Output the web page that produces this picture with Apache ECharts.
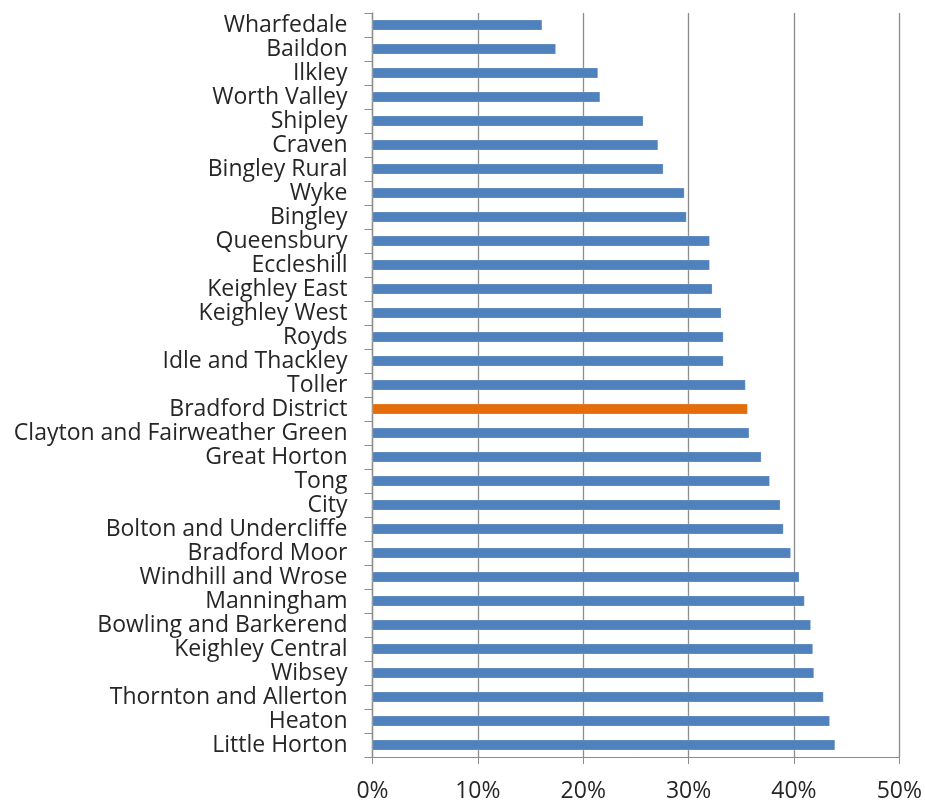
<!DOCTYPE html>
<html><head><meta charset="utf-8">
<script src="https://cdn.jsdelivr.net/npm/echarts@6/dist/echarts.min.js"></script>
<style>html,body{margin:0;padding:0;background:#fff}#c{width:925px;height:803px}</style>
</head><body><div id="c"></div>
<script>
const categories = ["Wharfedale","Baildon","Ilkley","Worth Valley","Shipley","Craven","Bingley Rural","Wyke","Bingley","Queensbury","Eccleshill","Keighley East","Keighley West","Royds","Idle and Thackley","Toller","Bradford District","Clayton and Fairweather Green","Great Horton","Tong","City","Bolton and Undercliffe","Bradford Moor","Windhill and Wrose","Manningham","Bowling and Barkerend","Keighley Central","Wibsey","Thornton and Allerton","Heaton","Little Horton"];
const values = [16.1,17.4,21.4,21.6,25.7,27.1,27.6,29.6,29.8,32.0,32.0,32.25,33.1,33.3,33.3,35.4,35.6,35.75,36.9,37.7,38.7,39.0,39.7,40.5,41.0,41.6,41.8,41.9,42.8,43.4,43.9];
const highlight = "Bradford District";
const xTicks = [0,10,20,30,40,50];

const chart = echarts.init(document.getElementById('c'), null, {renderer:'canvas'});
const font = "Open Sans";
chart.setOption({
  animation:false,
  grid:{left:372.5,right:24.5,top:13,bottom:43.5,containLabel:false},
  xAxis:{type:'value',min:xTicks[0],max:xTicks[xTicks.length-1],interval:10,
    axisLine:{show:true,lineStyle:{color:'#8c8c8c',width:1}},
    axisTick:{show:true,length:7,lineStyle:{color:'#8c8c8c'}},
    axisLabel:{formatter:v=>v+'%',fontSize:23,color:'#262626',fontFamily:font,margin:23},
    splitLine:{show:true,lineStyle:{color:'#8c8c8c',width:1.3}}},
  yAxis:{type:'category',data:categories,inverse:true,
    axisLine:{show:true,lineStyle:{color:'#8c8c8c',width:1.3}},
    axisTick:{show:true,length:8,lineStyle:{color:'#8c8c8c'}},
    axisLabel:{interval:0,fontSize:23,color:'#262626',fontFamily:font,margin:25}},
  series:[{type:'bar',barWidth:10.5,
    data:values.map((v,i)=>({value:v,itemStyle:{color:categories[i]===highlight?'#e46c0a':'#4f81bd'}})),
    itemStyle:{borderColor:'rgba(255,255,255,0.4)',borderWidth:0.5}}]
});
</script></body></html>
